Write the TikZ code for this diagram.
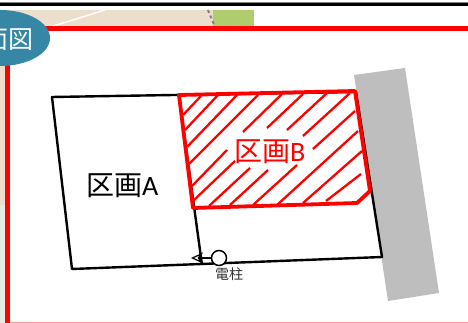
\documentclass[tikz,border=0pt]{standalone}
\usepackage{fontspec}
\usepackage{tikz}
\usetikzlibrary{
  arrows.meta,
  positioning,
}
\newfontfamily\cjkfont{Noto Sans CJK JP}
\newfontfamily\latinfont{Carlito}
\tikzstyle{lotline} = [
  line width=2.4pt,
  black,
  line join=round,
]
\tikzstyle{lotred} = [
  line width=3.8pt,
  red,
  line join=round,
]
\tikzstyle{hatchline} = [
  line width=2.3pt,
  red,
]
\tikzstyle{lotlabel} = [
  font=\fontsize{28}{28}\selectfont,
  inner sep=0pt,
]
\definecolor{mapbeige}{RGB}{236, 222, 205}
\definecolor{mapgreen}{RGB}{175, 205, 110}
\definecolor{mappale}{RGB}{226, 236, 226}
\definecolor{roadgray}{RGB}{190, 190, 190}
\definecolor{badgeteal}{RGB}{54, 135, 165}
\begin{document}
\begin{tikzpicture}[x=1pt, y=-1pt]

        \clip (0,0) rectangle (468,323);
        \fill [white] (0,0) rectangle (468,323);

        % map behind the frame
        \fill [mapbeige] (0,10) rectangle (254,30);
        \fill [mapgreen] (213,10) rectangle (254,30);
        \fill [mapbeige] (0,10) rectangle (7,323);
        \fill [mappale] (0,205) rectangle (7,323);
        \draw [white, line width=1.5pt] (50,27) -- (105,10);
        \draw [gray, line width=2pt, dashed] (208,10) -- (215,27);

        \draw [gray, line width=1pt] (0,2.5) -- (468,2.5);
        \draw [black, line width=3pt] (0,4.5) -- (468,4.5);

        % frame
        \fill [white] (10,31) rectangle (468,322);
        \fill [red] (5,26) rectangle (10,323);
        \fill [red] (5,26) rectangle (468,31);
        \draw [red!40, line width=1pt] (10,322.5) -- (468,322.5);

        \fill [roadgray] (354,75) -- (405,68) -- (439,293) -- (388,301) -- cycle;

        \fill [badgeteal] (0,38) ellipse [x radius=50, y radius=28];
        \node (title) [anchor=east, inner sep=0pt, white, font=\fontsize{25}{25}\selectfont\cjkfont]
              at (34,40) {面図};

        % lots
        \draw [lotline] (52,97) -- (356,92) -- (382,257) -- (72,269) -- cycle;
        \draw [lotline] (179,96) -- (202,265);

        \foreach \ax/\ay/\bx/\by in {
          201/96/183/115, 218/95/185/130, 237/95/187/147, 258/95/189/164,
          227/150/192/186, 235/161/193/201, 250/168/209/206, 268/170/230/205,
          282/94/243/132, 303/94/267/128, 327/93/287/130, 350/93/303/136,
          355/111/313/149, 297/165/253/205, 358/131/277/205, 362/151/303/203,
          361/174/326/201%
        } {
          \draw [hatchline] (\ax,\ay) -- (\bx,\by);
        }

        \draw [lotred] (179,95) -- (355,91) -- (370,191) -- (357,203) -- (193,208) -- cycle;

        \node (lotA) [lotlabel, anchor=west] at (86,186)
              {{\cjkfont 区画}{\latinfont A}};
        \node (lotB) [lotlabel, anchor=west, red] at (234,152)
              {{\cjkfont 区画}{\latinfont B}};

        % pole
        \node (pole) [circle, draw=black, fill=white, line width=1.5pt,
                      minimum size=15pt, inner sep=0pt] at (219,258) {};
        \coordinate (poletip) at (191,258);
        \draw [-{Stealth[open, fill=white, length=12pt, width=11pt]}, line width=1.2pt] (pole) -- (poletip);
        \node (polelabel) [inner sep=0pt, anchor=north west, text=black!80,
                           font=\fontsize{14}{14}\selectfont\cjkfont] at (215,268) {電柱};

\end{tikzpicture}
\end{document}
